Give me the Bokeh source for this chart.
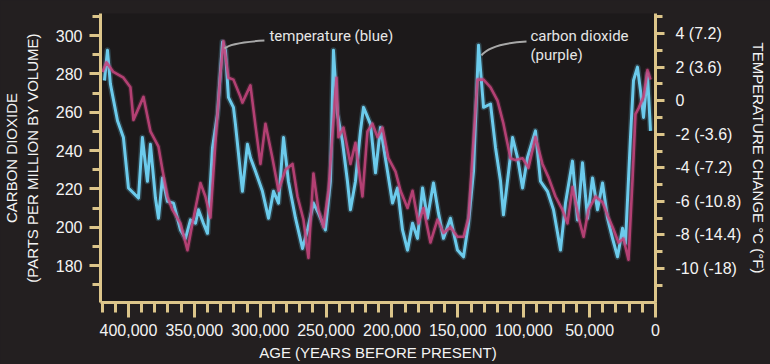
from bokeh.plotting import figure
from bokeh.models import (Range1d, LinearAxis, SingleIntervalTicker, FixedTicker,
                          NumeralTickFormatter, Label)
from bokeh.embed import file_html
from bokeh.resources import INLINE

# ---------------- data ----------------
co2_age_kyr = [419.7, 416.7, 411.4, 403.8, 398.5, 396.2, 388.6, 383.3, 377.2, 374.2,
               370.4, 366.6, 360.5, 355.2, 351.4, 345.3, 341.6, 337.8, 334.0, 330.2,
               327.9, 324.1, 320.3, 315.0, 313.5, 307.4, 303.6, 299.8, 296.0, 290.7,
               286.1, 280.8, 275.5, 271.7, 267.2, 263.4, 259.6, 255.8, 252.0, 248.2,
               242.1, 240.6, 236.8, 231.5, 227.7, 222.4, 218.6, 214.8, 211.0, 207.2,
               202.7, 197.3, 193.5, 188.2, 184.4, 179.9, 176.1, 170.8, 165.5, 160.9,
               155.6, 150.3, 145.7, 141.9, 138.1, 135.1, 130.5, 125.2, 119.9, 115.4,
               110.1, 106.3, 100.9, 96.4, 91.1, 85.8, 81.2, 75.9, 70.6, 66.8,
               63.0, 58.4, 54.6, 50.9, 45.5, 40.2, 35.7, 31.9, 28.1, 24.3,
               20.5, 17.5, 15.2, 12.9, 9.1, 6.1, 3.8]
co2_ppm = [281, 286, 281, 278, 273, 256, 268, 250, 242, 230,
           216, 209, 202, 188, 202, 223, 216, 205, 244, 280,
           297, 278, 277, 268, 265, 274, 253, 233, 254, 236,
           219, 230, 233, 216, 204, 184, 228, 209, 200, 219,
           278, 247, 252, 233, 244, 216, 250, 254, 247, 252,
           236, 229, 219, 210, 219, 202, 210, 192, 204, 197,
           200, 195, 195, 205, 246, 277, 277, 273, 266, 254,
           236, 235, 236, 231, 247, 233, 226, 216, 209, 202,
           221, 205, 195, 209, 216, 213, 205, 199, 192, 194,
           183, 224, 259, 262, 268, 282, 277]

temp_age_kyr = [418.2, 415.9, 413.7, 408.3, 403.8, 400.0, 396.2, 392.4, 389.4, 385.6,
                383.3, 379.5, 377.2, 374.2, 370.4, 365.8, 360.5, 356.7, 352.9, 349.1,
                346.9, 343.1, 340.0, 336.2, 332.4, 328.6, 326.4, 324.1, 320.3, 318.8,
                313.5, 309.7, 307.4, 303.6, 298.3, 293.7, 289.9, 286.1, 282.3, 278.6,
                273.2, 267.9, 264.1, 259.6, 255.8, 250.5, 246.7, 244.4, 241.4, 237.6,
                233.8, 231.5, 227.7, 223.9, 221.6, 216.3, 212.5, 208.7, 203.4, 199.6,
                195.8, 192.0, 188.2, 184.4, 180.6, 176.8, 173.1, 168.5, 164.7, 160.9,
                155.6, 150.3, 145.7, 141.9, 138.1, 134.3, 130.5, 125.2, 121.4, 117.6,
                115.4, 111.6, 108.5, 104.7, 100.9, 97.2, 91.1, 87.3, 82.0, 77.4,
                72.1, 68.3, 63.0, 59.2, 55.4, 51.6, 47.8, 44.0, 40.2, 36.4,
                32.6, 28.8, 25.0, 22.8, 19.0, 16.7, 13.7, 11.4, 9.1, 6.1, 3.8]
temp_change_c = [1.2, 3.0, 1.0, -1.2, -2.2, -5.2, -5.5, -5.8, -2.2, -4.8,
                 -2.6, -5.8, -7.0, -4.6, -6.0, -6.1, -7.7, -8.2, -7.1, -7.3,
                 -6.5, -7.3, -7.9, -2.8, -0.8, 3.5, 3.0, 0.2, -0.4, -1.4,
                 -5.4, -2.6, -3.4, -4.2, -5.4, -7.0, -5.4, -6.1, -2.2, -4.8,
                 -7.0, -8.8, -7.7, -6.1, -6.7, -7.7, -4.8, 3.0, -0.8, -2.4,
                 -4.8, -6.5, -4.8, -1.8, -0.4, -1.4, -4.3, -1.6, -4.2, -6.1,
                 -5.2, -7.7, -8.9, -7.3, -8.2, -5.2, -7.0, -4.9, -6.7, -8.2,
                 -7.0, -8.9, -9.3, -7.3, -4.2, 3.3, -0.4, -0.2, -2.8, -4.8,
                 -6.8, -4.3, -2.2, -3.4, -5.2, -3.4, -1.8, -4.8, -5.4, -6.5,
                 -8.9, -6.1, -3.6, -7.1, -3.7, -7.0, -4.6, -6.5, -4.9, -7.0,
                 -8.2, -9.3, -7.6, -8.5, -2.2, 1.2, 2.0, 0.6, -1.0, 1.6, -1.8]

temp_ticks = [4, 2, 0, -2, -4, -6, -8, -10]
temp_tick_labels = ["4 (7.2)", "2 (3.6)", "0", "-2 (-3.6)", "-4 (-7.2)",
                    "-6 (-10.8)", "-8 (-14.4)", "-10 (-18)"]
temp_minor_ticks = [5, 3, 1, -1, -3, -5, -7, -9, -11]

co2_axis_title = "CARBON DIOXIDE\n(PARTS PER MILLION BY VOLUME)"
temp_axis_title = "TEMPERATURE CHANGE \u00b0C (\u00b0F)"
age_axis_title = "AGE (YEARS BEFORE PRESENT)"

# annotation anchors (age in years, ppm)
temp_note = dict(text="temperature (blue)", x=293000, y=300.0)
temp_leader = dict(x0=327100, y0=293.2, cx=322600, cy=296.3, x1=296800, y1=297.4)
co2_note_lines = ["carbon dioxide", "(purple)"]
co2_note = dict(x=94900, y=[300.0, 289.6])
co2_leader = dict(x0=132100, y0=289.6, cx=125200, cy=295.8, x1=97900, y1=296.9)

# ---------------- styling ----------------
BG_OUT = "#231f20"
BG_IN = "#1c191a"
TAN = "#dcc58a"
BLUE = "#6ccbec"
PURPLE = "#c4447d"
FONT = "'Liberation Sans', sans-serif"
NOTE_FONT = "Roboto, 'Liberation Sans', sans-serif"

p = figure(width=770, height=364, output_backend="svg", toolbar_location=None,
           x_range=Range1d(421200, 0), y_range=Range1d(160.7, 311.5),
           min_border_left=100, min_border_right=115, min_border_top=13, min_border_bottom=62,
           background_fill_color=BG_IN, border_fill_color=BG_OUT,
           outline_line_color=None, x_axis_location="below", y_axis_location="left")
p.grid.visible = False
p.extra_y_ranges = {"temp": Range1d(-12.02, 5.19)}

rax = LinearAxis(y_range_name="temp")
p.add_layout(rax, "right")

xa = p.xaxis[0]
ya = p.yaxis[0]

for ax in (xa, ya, rax):
    ax.axis_line_color = TAN
    ax.axis_line_width = 3
    ax.major_tick_line_color = TAN
    ax.minor_tick_line_color = TAN
    ax.major_tick_line_width = 3
    ax.minor_tick_line_width = 3
    ax.major_tick_in = 0
    ax.minor_tick_in = 0
    ax.major_label_text_color = "#f4f4f4"
    ax.major_label_text_font = FONT
    ax.major_label_text_font_size = "16px"
    ax.axis_label_text_color = "#f4f4f4"
    ax.axis_label_text_font = FONT
    ax.axis_label_text_font_size = "15px"
    ax.axis_label_text_font_style = "normal"

xa.ticker = SingleIntervalTicker(interval=50000, num_minor_ticks=5)
xa.formatter = NumeralTickFormatter(format="0,0")
xa.major_tick_out = 15
xa.minor_tick_out = 10
xa.major_label_standoff = 6
xa.axis_label = age_axis_title
xa.axis_label_standoff = 5

ya.ticker = SingleIntervalTicker(interval=20, num_minor_ticks=2)
ya.major_tick_out = 11
ya.minor_tick_out = 8
ya.major_label_standoff = 7
ya.axis_label = co2_axis_title
ya.axis_label_standoff = 12

rax.ticker = FixedTicker(ticks=temp_ticks, minor_ticks=temp_minor_ticks)
rax.major_label_overrides = {t: l for t, l in zip(temp_ticks, temp_tick_labels)}
rax.major_tick_out = 9
rax.minor_tick_out = 7
rax.major_label_standoff = 11
rax.axis_label = temp_axis_title
rax.axis_label_standoff = 6

# ---------------- series ----------------
tx = [a * 1000 for a in temp_age_kyr]
cx_ = [a * 1000 for a in co2_age_kyr]
p.line(tx, temp_change_c, y_range_name="temp",
       line_color=BLUE, line_width=6, line_alpha=0.22, line_join="round")
p.line(tx, temp_change_c, y_range_name="temp",
       line_color=BLUE, line_width=3, line_join="round")
p.line(cx_, co2_ppm, line_color=PURPLE, line_width=5, line_alpha=0.2, line_join="round")
p.line(cx_, co2_ppm, line_color=PURPLE, line_width=2.6, line_alpha=0.88, line_join="round")

# ---------------- annotations ----------------
for ld in (temp_leader, co2_leader):
    p.quadratic(x0=[ld["x0"]], y0=[ld["y0"]], x1=[ld["x1"]], y1=[ld["y1"]],
                cx=[ld["cx"]], cy=[ld["cy"]], line_color="#a8a8a8", line_width=2)

p.add_layout(Label(x=temp_note["x"], y=temp_note["y"], text=temp_note["text"],
                   text_baseline="middle", text_font=NOTE_FONT, text_font_size="15px",
                   text_color="#e6e6e6"))
for txt, yy in zip(co2_note_lines, co2_note["y"]):
    p.add_layout(Label(x=co2_note["x"], y=yy, text=txt, text_baseline="middle",
                       text_font=NOTE_FONT, text_font_size="15px", text_color="#e6e6e6"))

html = file_html(p, INLINE, title="Vostok ice core")
html = html.replace("<head>", "<head><style>html,body{background:%s;overflow:hidden;}</style>" % BG_OUT, 1)
open("out.html", "w").write(html)
